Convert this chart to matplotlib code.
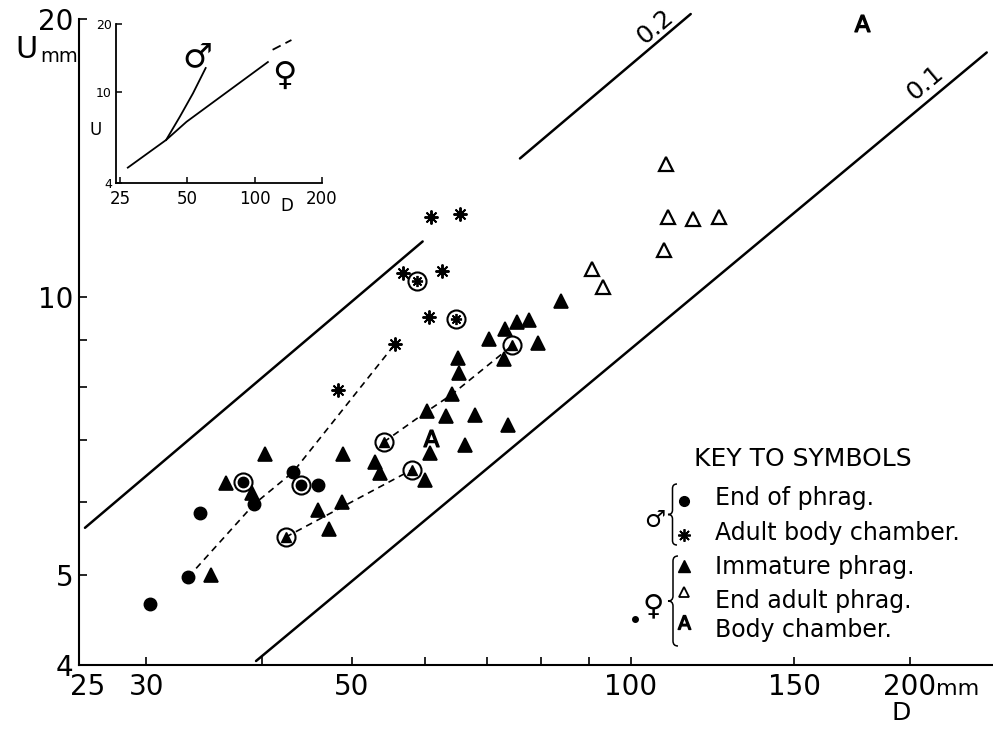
import matplotlib.pyplot as plt
from matplotlib import ticker
from matplotlib.path import Path
from matplotlib.patches import PathPatch

plt.rcParams['font.family'] = ['DejaVu Sans']

# values, D and U in mm
# male: end of phragmocone
dot_D = [30.3, 33.3, 34.3, 39.2, 43.2, 45.9]
dot_U = [4.66, 4.98, 5.84, 5.97, 6.47, 6.27]
ring_dot_D = [38.1, 44.1]
ring_dot_U = [6.31, 6.27]
# male: adult body chamber
star_D = [48.3, 55.7, 60.6, 60.8, 65.4, 56.7, 62.6]
star_U = [7.93, 8.91, 9.52, 12.22, 12.30, 10.63, 10.68]
ring_star_D = [58.8, 64.7]
ring_star_U = [10.41, 9.46]
# female: immature phragmocone
tri_D = [35.2, 36.6, 39.0, 40.3, 46.0, 48.8, 47.2, 48.9, 52.9, 53.6, 60.3, 63.1, 60.7, 59.9,
         64.1, 65.2, 65.0, 67.8, 66.2, 73.7, 73.0, 70.2, 73.1, 75.3, 77.7, 79.4, 84.0]
tri_U = [5.00, 6.29, 6.14, 6.76, 5.88, 6.00, 5.61, 6.76, 6.63, 6.45, 7.53, 7.44, 6.78, 6.34,
         7.85, 8.27, 8.60, 7.45, 6.92, 7.28, 8.58, 9.01, 9.25, 9.40, 9.44, 8.92, 9.91]
ring_tri_D = [42.4, 54.1, 58.1, 74.5]
ring_tri_U = [5.50, 6.97, 6.51, 8.87]
# female: end of adult phragmocone
open_D = [109.2, 109.6, 116.8, 124.3, 108.5, 90.8, 93.4]
open_U = [13.92, 12.22, 12.15, 12.22, 11.26, 10.74, 10.26]
# female: body chamber
body_D = [60.9, 177.4]
body_U = [7.05, 19.8]
small_D = [101.0]
small_U = [4.49]

# growth tracks (dashed)
track1_D = [33.3, 39.2, 43.2, 55.7]
track1_U = [4.98, 5.97, 6.47, 8.91]
track2_D = [42.4, 58.1]
track2_U = [5.50, 6.51]
track3_D = [54.1, 60.3, 64.1, 74.5]
track3_U = [6.97, 7.53, 7.85, 8.87]

# ratio lines
r02a_D = [25.76, 59.6]
r02a_U = [5.63, 11.49]
r02b_D = [75.9, 116.0]
r02b_U = [14.13, 20.25]
r01_D = [39.4, 242.0]
r01_U = [4.04, 18.4]

# inset curves
fem_D = [27.1, 40.2, 49.6, 114.6]
fem_U = [4.66, 6.17, 7.42, 13.6]
fem_ext_D = [120.3, 146.0]
fem_ext_U = [15.4, 17.0]
male_D = [40.2, 46.3, 53.0, 60.4]
male_U = [6.17, 7.81, 9.90, 12.8]

W, H = 993, 729
fig = plt.figure(figsize=(W / 100, H / 100), dpi=100)


def fp(x, y):
    # image pixel -> figure fraction
    return x / W, 1 - y / H


ax = fig.add_axes([79 / W, 64 / H, (W - 79) / W, 646 / H])
ax.set_xscale('log')
ax.set_yscale('log')
ax.set_xlim(25.38, 245.8)
ax.set_ylim(4, 20)
for s in ['top', 'right']:
    ax.spines[s].set_visible(False)
for s in ['left', 'bottom']:
    ax.spines[s].set_linewidth(1.5)
ax.xaxis.set_minor_locator(ticker.NullLocator())
ax.xaxis.set_minor_formatter(ticker.NullFormatter())
ax.set_xticks([30, 40, 50, 60, 70, 80, 90, 100, 150, 200],
              ['30', '', '50', '', '', '', '', '100', '150', ''])
ax.set_yticks([4, 5, 10, 20], ['4', '5', '10', '20'])
ax.set_yticks([6, 7, 8, 9], minor=True)
ax.yaxis.set_minor_formatter(ticker.NullFormatter())
ax.tick_params(which='both', direction='in', length=6, width=1.2, labelsize=20)
ax.tick_params(axis='x', pad=6)
ax.tick_params(axis='y', pad=4)
ax.annotate('25', xy=(25.96, 0), xycoords=ax.get_xaxis_transform(), xytext=(0, -6),
            textcoords='offset points', ha='center', va='top', fontsize=20)
ax.annotate('200', xy=(200, 0), xycoords=ax.get_xaxis_transform(), xytext=(0, -6),
            textcoords='offset points', ha='center', va='top', fontsize=20)
ax.annotate('mm', xy=(200, 0), xycoords=ax.get_xaxis_transform(), xytext=(19, -21.5),
            textcoords='offset points', ha='left', va='baseline', fontsize=16)
fig.text(*fp(901, 713), 'D', ha='center', va='center', fontsize=18)
fig.text(*fp(27, 50), 'U', ha='center', va='center', fontsize=22)
fig.text(*fp(40, 57), 'mm', ha='left', va='center', fontsize=14)

# ratio lines
kw = dict(color='k', lw=1.8, clip_on=False, solid_capstyle='round')
ax.plot(r02a_D, r02a_U, **kw)
ax.plot(r02b_D, r02b_U, **kw)
ax.plot(r01_D, r01_U, **kw)
ax.text(106.1, 19.6, '0.2', rotation=40, ha='center', va='center', fontsize=18, clip_on=False)
ax.text(207.6, 17.05, '0.1', rotation=40, ha='center', va='center', fontsize=18, clip_on=False)

# growth tracks
dash = dict(color='k', lw=1.2, ls=(0, (4, 3)))
ax.plot(track1_D, track1_U, **dash)
ax.plot(track2_D, track2_U, **dash)
ax.plot(track3_D, track3_U, **dash)

# symbols
ax.plot(dot_D, dot_U, 'o', color='k', ms=9, ls='none')
ax.plot(ring_dot_D, ring_dot_U, 'o', color='k', ms=7.5, ls='none')
ax.plot(ring_dot_D, ring_dot_U, 'o', mfc='none', mec='k', mew=1.5, ms=13, ls='none')
ax.plot(star_D, star_U, marker=(8, 2, 0), color='k', ms=10, mew=1.4, ls='none')
ax.plot(star_D, star_U, 'o', color='k', ms=3.5, ls='none')
ax.plot(ring_star_D, ring_star_U, marker=(8, 2, 0), color='k', ms=8, mew=1.3, ls='none')
ax.plot(ring_star_D, ring_star_U, 'o', mfc='none', mec='k', mew=1.5, ms=13, ls='none')
ax.plot(tri_D, tri_U, '^', color='k', ms=10, mew=1.2, ls='none')
ax.plot(ring_tri_D, ring_tri_U, '^', color='k', ms=7.5, ls='none')
ax.plot(ring_tri_D, ring_tri_U, 'o', mfc='none', mec='k', mew=1.5, ms=13, ls='none')
ax.plot(open_D, open_U, '^', mfc='white', mec='k', ms=10, mew=1.6, ls='none')
ax.plot(body_D, body_U, marker='$\\mathsf{A}$', color='k', ms=12, ls='none', clip_on=False)
ax.plot(small_D, small_U, 'o', color='k', ms=4, ls='none')

# key
fig.text(*fp(803, 459), 'KEY TO SYMBOLS', ha='center', va='center', fontsize=18)
items = ['End of phrag.', 'Adult body chamber.', 'Immature phrag.', 'End adult phrag.', 'Body chamber.']
rows = [498, 533, 567, 601, 630]
for t, y in zip(items, rows):
    fig.text(*fp(715, y), t, ha='left', va='center', fontsize=17)
mk = [dict(marker='o', color='k', ms=7),
      dict(marker=(8, 2, 0), color='k', ms=9, mew=1.3),
      dict(marker='^', color='k', ms=8),
      dict(marker='^', mfc='white', mec='k', ms=7, mew=1.3),
      dict(marker='$\\mathsf{A}$', color='k', ms=10)]
mrows = [501, 535, 566, 592, 622]
for m, y in zip(mk, mrows):
    fig.add_artist(plt.Line2D([684 / W], [1 - y / H], transform=fig.transFigure, ls='none', **m))
fig.text(*fp(655, 520), '\u2642', ha='center', va='center', fontsize=17)
fig.text(*fp(653, 606), '\u2640', ha='center', va='center', fontsize=21)


def brace(x, y0, y1, w):
    ym = (y0 + y1) / 2
    xm = x + w / 2
    d = w / 2
    pts = [(x + w, y0), (xm, y0), (xm, y0 + d), (xm, ym - d), (xm, ym), (x, ym),
           (xm, ym), (xm, ym + d), (xm, y1 - d), (xm, y1), (x + w, y1)]
    codes = [Path.MOVETO, Path.CURVE3, Path.CURVE3, Path.LINETO, Path.CURVE3, Path.CURVE3,
             Path.CURVE3, Path.CURVE3, Path.LINETO, Path.CURVE3, Path.CURVE3]
    path = Path([fp(px, py) for px, py in pts], codes)
    fig.add_artist(PathPatch(path, fc='none', ec='k', lw=1.1, transform=fig.transFigure))


brace(668, 484, 545, 9)
brace(668, 556, 646, 10)

# inset
ax2 = fig.add_axes([116 / W, (H - 182.7) / H, 206 / W, 158.7 / H])
ax2.patch.set_visible(False)
ax2.set_xscale('log')
ax2.set_yscale('log')
ax2.set_xlim(24, 200)
ax2.set_ylim(4, 20)
for s in ['top', 'right']:
    ax2.spines[s].set_visible(False)
for s in ['left', 'bottom']:
    ax2.spines[s].set_linewidth(1.3)
ax2.xaxis.set_minor_locator(ticker.NullLocator())
ax2.xaxis.set_minor_formatter(ticker.NullFormatter())
ax2.yaxis.set_minor_locator(ticker.NullLocator())
ax2.yaxis.set_minor_formatter(ticker.NullFormatter())
ax2.set_xticks([25, 50, 100, 200], ['25', '50', '100', '200'])
ax2.set_yticks([4, 10, 20], ['4', '10', '20'])
ax2.tick_params(direction='in', length=4, width=1.1)
ax2.tick_params(axis='x', labelsize=12, pad=5)
ax2.tick_params(axis='y', labelsize=9, pad=3)
ax2.plot(fem_D, fem_U, color='k', lw=1.3)
ax2.plot(fem_ext_D, fem_ext_U, color='k', lw=1.3, ls=(0, (5, 3)))
ax2.plot(male_D, male_U, color='k', lw=1.3)
ax2.text(55.7, 14.3, '\u2642', ha='center', va='center', fontsize=24)
ax2.text(136, 11.9, '\u2640', ha='center', va='center', fontsize=24)
fig.text(*fp(96, 130), 'U', ha='center', va='center', fontsize=12)
fig.text(*fp(287, 206), 'D', ha='center', va='center', fontsize=12)

fig.savefig('out.png', dpi=100)
